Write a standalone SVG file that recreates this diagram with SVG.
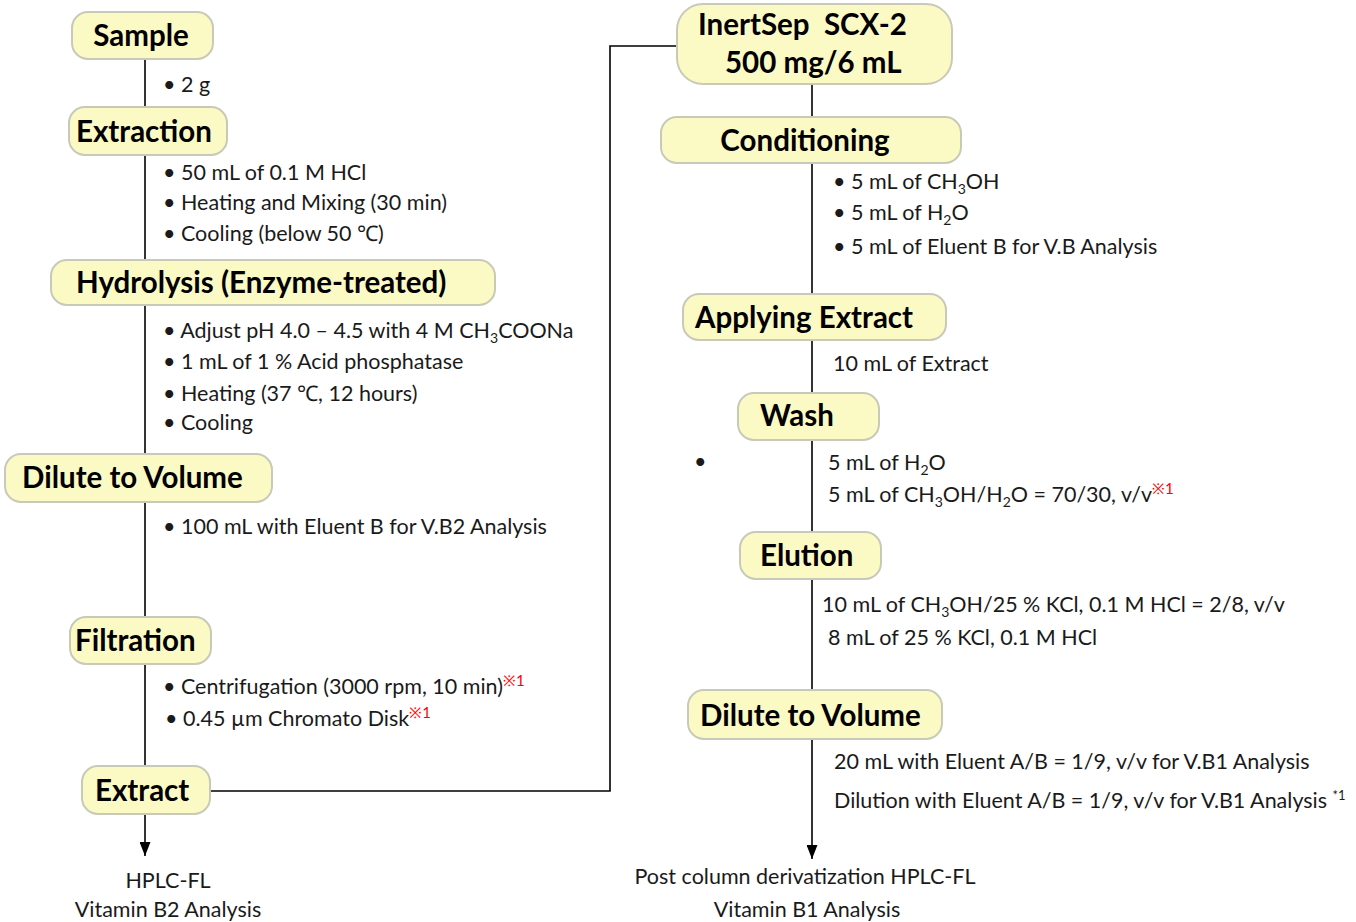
<svg xmlns="http://www.w3.org/2000/svg" width="1356" height="922" viewBox="0 0 1356 922">
<defs>
<style>
.box{fill:#FCFAC4;stroke:#C9C9B8;stroke-width:2}
.h{font-family:Lato,"Liberation Sans",sans-serif;font-weight:bold;font-size:29.5px;fill:#000}
.t{font-family:Lato,"Liberation Sans",sans-serif;font-size:21.5px;fill:#1a1a1a}
.s{font-size:14px}
.r{fill:#FF0000;font-size:15px}
.ln{stroke:#000;stroke-width:1.6;fill:none}
</style>
<marker id="arr" viewBox="0 0 10 10" refX="10" refY="5" markerWidth="14" markerHeight="11" markerUnits="userSpaceOnUse" orient="auto" preserveAspectRatio="none">
<path d="M0,0 L10,5 L0,10 Z" fill="#000"/>
</marker>
</defs>
<rect width="1356" height="922" fill="#fff"/>
<g id="connectors">
<line class="ln" x1="145" y1="59" x2="145" y2="107"/>
<line class="ln" x1="145" y1="155" x2="145" y2="260"/>
<line class="ln" x1="145" y1="305" x2="145" y2="454"/>
<line class="ln" x1="145" y1="502" x2="145" y2="617"/>
<line class="ln" x1="145" y1="664" x2="145" y2="766"/>
<line class="ln" x1="145" y1="814" x2="145" y2="856" marker-end="url(#arr)"/>
<polyline class="ln" points="210,791 610,791 610,46 677,46"/>
<line class="ln" x1="812" y1="84" x2="812" y2="117"/>
<line class="ln" x1="812" y1="163" x2="812" y2="294"/>
<line class="ln" x1="812" y1="340" x2="812" y2="393"/>
<line class="ln" x1="812" y1="440" x2="812" y2="532"/>
<line class="ln" x1="812" y1="579" x2="812" y2="690"/>
<line class="ln" x1="812" y1="739" x2="812" y2="859" marker-end="url(#arr)"/>
</g>
<g id="sample"><rect class="box" x="72" y="12" width="141" height="47" rx="16"/><text class="h" x="141" y="46" text-anchor="middle">Sample</text></g>
<g id="extraction"><rect class="box" x="69" y="107" width="158" height="48" rx="16"/><text class="h" x="76" y="142">Extraction</text></g>
<g id="hydrolysis"><rect class="box" x="51" y="260" width="444" height="45" rx="16"/><text class="h" x="76" y="293">Hydrolysis (Enzyme-treated)</text></g>
<g id="dilute1"><rect class="box" x="5" y="454" width="267" height="48" rx="16"/><text class="h" x="22" y="488">Dilute to Volume</text></g>
<g id="filtration"><rect class="box" x="70" y="617" width="141" height="47" rx="16"/><text class="h" x="75" y="651">Filtration</text></g>
<g id="extract"><rect class="box" x="82" y="766" width="128" height="48" rx="16"/><text class="h" x="95" y="801">Extract</text></g>
<g id="inertsep"><rect class="box" x="677" y="4" width="275" height="80" rx="26"/><text class="h" x="698" y="35" xml:space="preserve">InertSep  SCX-2</text><text class="h" x="725" y="73">500 mg/6 mL</text></g>
<g id="conditioning"><rect class="box" x="661" y="117" width="300" height="46" rx="16"/><text class="h" x="805" y="151" text-anchor="middle">Conditioning</text></g>
<g id="applying"><rect class="box" x="683" y="294" width="263" height="46" rx="16"/><text class="h" x="695" y="328">Applying Extract</text></g>
<g id="wash"><rect class="box" x="738" y="393" width="141" height="47" rx="16"/><text class="h" x="760" y="426">Wash</text></g>
<g id="elution"><rect class="box" x="740" y="532" width="141" height="47" rx="16"/><text class="h" x="760" y="566">Elution</text></g>
<g id="dilute2"><rect class="box" x="688" y="690" width="254" height="49" rx="16"/><text class="h" x="700" y="726">Dilute to Volume</text></g>
<g id="labels">
<text class="t" x="163" y="92">• 2 g</text>
<text class="t" x="163" y="180">• 50 mL of 0.1 M HCl</text>
<text class="t" x="163" y="210">• Heating and Mixing (30 min)</text>
<text class="t" x="163" y="241">• Cooling (below 50 ℃)</text>
<text class="t" x="163" y="338">• Adjust pH 4.0 – 4.5 with 4 M CH<tspan class="s" dy="5">3</tspan><tspan dy="-5">COONa</tspan></text>
<text class="t" x="163" y="369">• 1 mL of 1 % Acid phosphatase</text>
<text class="t" x="163" y="401">• Heating (37 ℃, 12 hours)</text>
<text class="t" x="163" y="430">• Cooling</text>
<text class="t" x="163" y="534">• 100 mL with Eluent B for V.B2 Analysis</text>
<text class="t" x="163" y="694">• Centrifugation (3000 rpm, 10 min)<tspan class="r" dy="-8">※1</tspan></text>
<text class="t" x="165" y="726">• 0.45 µm Chromato Disk<tspan class="r" dy="-8">※1</tspan></text>
<text class="t" x="168" y="888" text-anchor="middle">HPLC-FL</text>
<text class="t" x="168" y="917" text-anchor="middle">Vitamin B2 Analysis</text>
<text class="t" x="833" y="189">• 5 mL of CH<tspan class="s" dy="5">3</tspan><tspan dy="-5">OH</tspan></text>
<text class="t" x="833" y="220">• 5 mL of H<tspan class="s" dy="5">2</tspan><tspan dy="-5">O</tspan></text>
<text class="t" x="833" y="254">• 5 mL of Eluent B for V.B Analysis</text>
<text class="t" x="833" y="371">10 mL of Extract</text>
<text class="t" x="694" y="469">•</text>
<text class="t" x="828" y="470">5 mL of H<tspan class="s" dy="5">2</tspan><tspan dy="-5">O</tspan></text>
<text class="t" x="828" y="502">5 mL of CH<tspan class="s" dy="5">3</tspan><tspan dy="-5">OH/H</tspan><tspan class="s" dy="5">2</tspan><tspan dy="-5">O = 70/30, v/v</tspan><tspan class="r" dy="-8">※1</tspan></text>
<text class="t" x="822" y="612">10 mL of CH<tspan class="s" dy="5">3</tspan><tspan dy="-5">OH/25 % KCl, 0.1 M HCl = 2/8, v/v</tspan></text>
<text class="t" x="828" y="645">8 mL of 25 % KCl, 0.1 M HCl</text>
<text class="t" x="834" y="769">20 mL with Eluent A/B = 1/9, v/v for V.B1 Analysis</text>
<text class="t" x="834" y="808">Dilution with Eluent A/B = 1/9, v/v for V.B1 Analysis <tspan font-size="13" dy="-8">*1</tspan></text>
<text class="t" x="805" y="884" text-anchor="middle">Post column derivatization HPLC-FL</text>
<text class="t" x="807" y="917" text-anchor="middle">Vitamin B1 Analysis</text>
</g>
</svg>
